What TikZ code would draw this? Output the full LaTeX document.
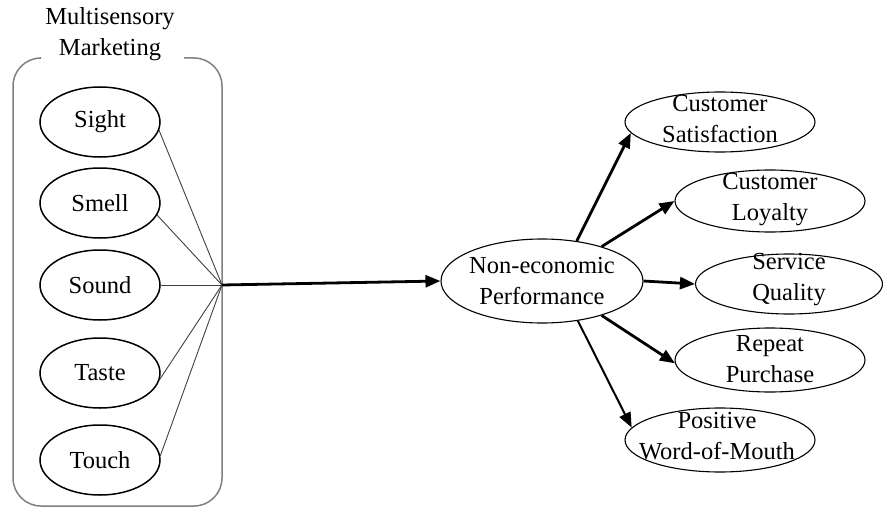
\documentclass[tikz,border=0pt]{standalone}
\usepackage{fontspec}
\setmainfont{Liberation Serif}
\usetikzlibrary{shapes.geometric,arrows.meta}
\begin{document}
\begin{tikzpicture}[x=1pt,y=-1pt,
  txt/.style={font=\fontsize{24.5}{31}\selectfont, align=center, inner sep=0pt},
  lell/.style={draw=black, line width=1.5pt, ellipse, minimum width=120pt, minimum height=70pt, inner sep=0pt},
  rell/.style={draw=black, line width=1.1pt, ellipse, minimum width=190pt, minimum height=62pt, inner sep=0pt},
  feed/.style={draw=black!75, line width=0.9pt},
  arr/.style={line width=2.8pt, -{Triangle[length=15pt,width=12pt]}},
  arrthin/.style={line width=2pt, -{Triangle[length=15pt,width=12pt]}},
  frame/.style={draw=black!50, line width=1.5pt, rounded corners=28pt}
]
\useasboundingbox (0,0) rectangle (883,508);
% frame
\draw[frame] (40,58) -- (13,58) -- (13,506) -- (222,506) -- (222,58) -- (184,58);
\node[txt] (title) at (110,34) {Multisensory\\Marketing};
% left ellipses
\node[lell] (sight) at (100,122) {};
\node[txt] (sightT) at (sight.center) {Sight};
\node[lell] (smell) at (100,203) {};
\node[txt] (smellT) at (smell.center) {Smell};
\node[lell] (sound) at (100,285) {};
\node[txt] (soundT) at (sound.center) {Sound};
\node[lell] (taste) at (100,373) {};
\node[txt] (tasteT) at (taste.center) {Taste};
\node[lell] (touch) at (100,460) {};
\node[txt] (touchT) at (touch.center) {Touch};
\coordinate (hub) at (222,285);
\draw[feed] (sight.-8) -- (hub);
\draw[feed] (smell.-12) -- (hub);
\draw[feed] (sound.east) -- (hub);
\draw[feed] (taste.-6) -- (hub);
\draw[feed] (touch.4) -- (hub);
% central
\node[draw=black, line width=1.1pt, ellipse, minimum width=202pt, minimum height=84pt, inner sep=0pt] (ne) at (542,281) {};
\node[txt] (neT) at (ne.center) {Non-economic\\Performance};
\draw[arr] (hub) -- (ne.west);
% right ellipses
\node[rell, minimum height=60pt] (sat) at (720,122) {};
\node[txt] (satT) at (720,119) {Customer\\Satisfaction};
\node[rell] (loy) at (770,201) {};
\node[txt] (loyT) at (770,200) {Customer\\Loyalty};
\node[rell, minimum height=60pt, minimum width=187pt] (sq) at (789,284) {};
\node[txt] (sqT) at (789,280) {Service\\Quality};
\node[rell, minimum height=64pt] (rp) at (770,360) {};
\node[txt] (rpT) at (770,359) {Repeat\\Purchase};
\node[rell, minimum height=64pt] (wom) at (720,440) {};
\node[txt] (womT) at (717,436) {Positive\\Word-of-Mouth};
% arrows
\draw[arr] (ne.49) -- (sat.187);
\draw[arr] (ne.30) -- (loy.west);
\draw[arr] (ne.east) -- (sq.west);
\draw[arr] (ne.-30) -- (rp.182);
\draw[arrthin] (ne.-48) -- (wom.172);
\end{tikzpicture}
\end{document}
